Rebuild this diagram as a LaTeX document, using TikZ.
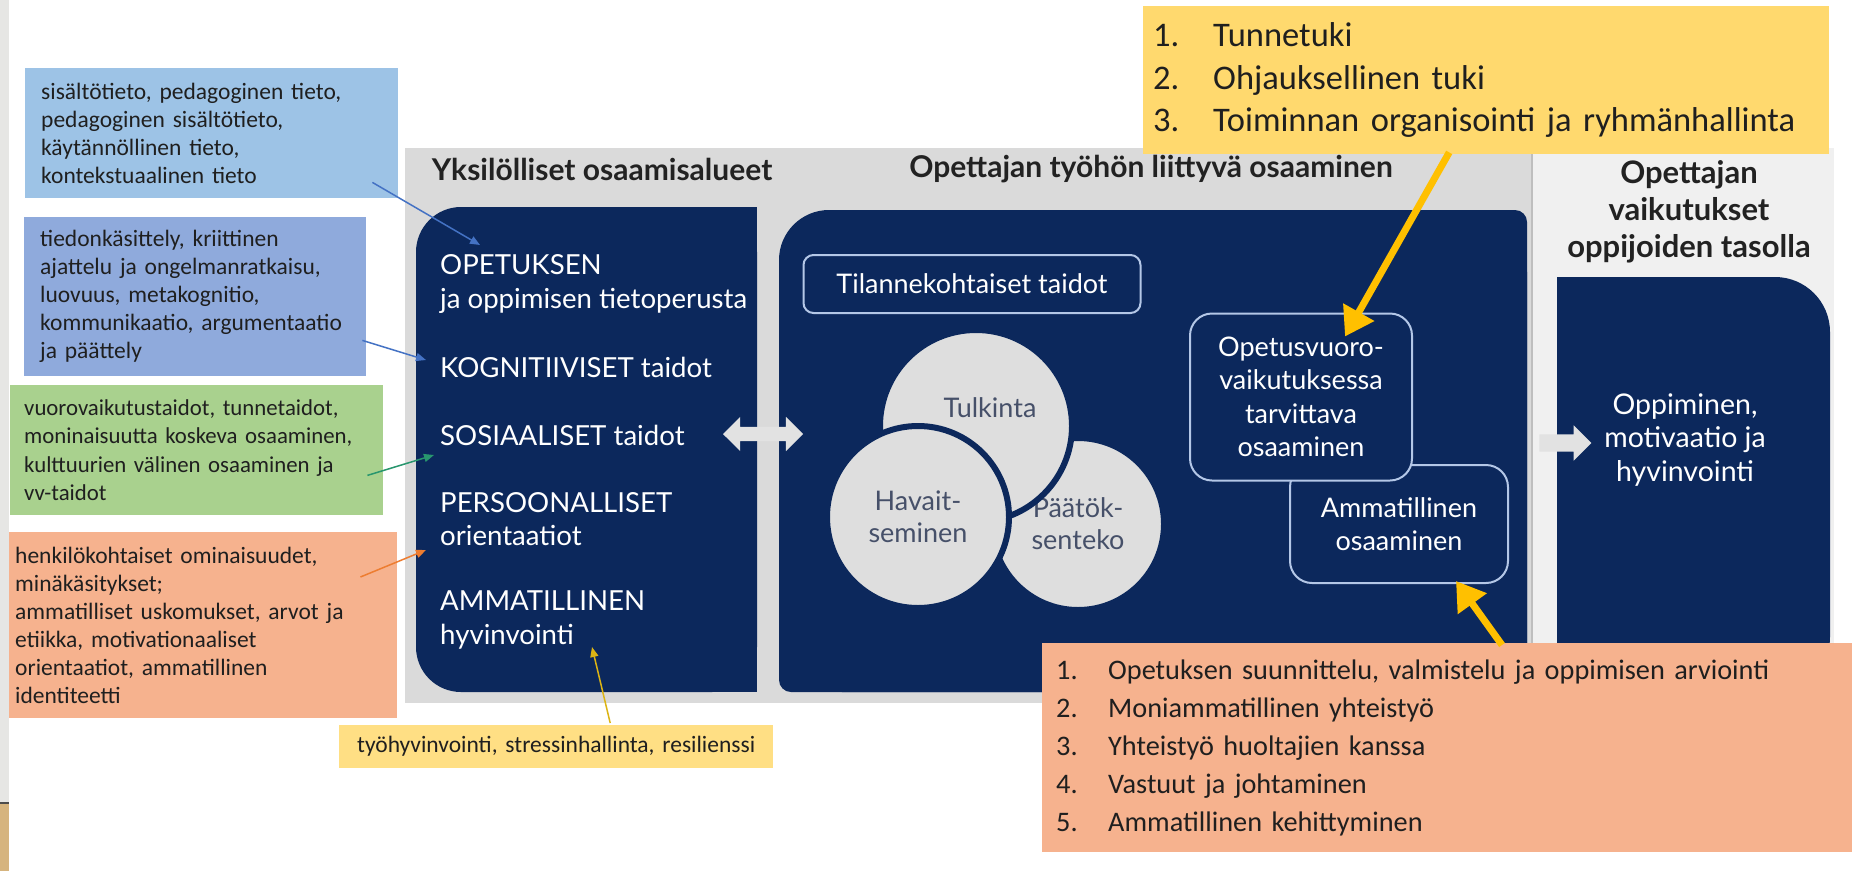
\documentclass[tikz,border=0pt]{standalone}
\usepackage{fontspec}
\setmainfont{Lato}
\newfontfamily\calibri{Carlito}
\usetikzlibrary{arrows.meta,shapes.arrows}

\definecolor{navy}{RGB}{12,40,92}
\definecolor{panelgray}{RGB}{218,218,218}
\definecolor{panellight}{RGB}{240,240,240}
\definecolor{divider}{RGB}{190,190,190}
\definecolor{circgray}{RGB}{222,222,222}
\definecolor{circink}{RGB}{70,80,105}
\definecolor{edgeblue}{RGB}{180,199,231}
\definecolor{arrowgray}{RGB}{226,226,226}
\definecolor{skyblue}{RGB}{157,195,230}
\definecolor{lavender}{RGB}{143,170,220}
\definecolor{leafgreen}{RGB}{169,209,142}
\definecolor{salmon}{RGB}{246,178,142}
\definecolor{butter}{RGB}{255,217,110}
\definecolor{gold}{RGB}{255,192,0}
\definecolor{inkblue}{RGB}{68,114,196}
\definecolor{inkteal}{RGB}{40,150,110}
\definecolor{inkorange}{RGB}{237,125,49}
\definecolor{inkgold}{RGB}{220,180,20}
\definecolor{stripgray}{RGB}{230,230,228}
\definecolor{striptan}{RGB}{214,180,126}
\definecolor{heading}{RGB}{34,34,34}

\begin{document}
\begin{tikzpicture}[x=1pt,y=-1pt,
            callout/.style={anchor=north west,inner ysep=0pt,align=left,text=black!88,
                font=\calibri\fontsize{23.5}{28}\selectfont},
            navytext/.style={anchor=west,align=left,inner sep=0pt,text=white,
                font=\fontsize{27.6}{33.5}\selectfont},
            framebox/.style={rectangle,rounded corners=22pt,draw=edgeblue,line width=2pt,
                fill=navy,text=white,align=center,inner sep=0pt,font=\fontsize{27}{33.5}\selectfont},
            circ/.style={circle,fill=circgray,draw=navy,line width=6pt,text=circink,
                align=center,inner sep=0pt,font=\fontsize{27}{32}\selectfont},
            title/.style={text=heading,align=center,inner sep=0pt,font=\bfseries\fontsize{30}{37}\selectfont},
            pointer/.style={line width=1.5pt,-{Triangle[length=10pt,width=8pt]}},
            bigpointer/.style={draw=gold,line width=7pt,-{Triangle[length=28pt,width=34pt]}}]

            \fill[white] (0,0) rectangle (1852,871);
            \useasboundingbox (0,0) rectangle (1852,871);
            \fill[stripgray] (0,0) rectangle (9,802);
            \fill[striptan] (0,803) rectangle (9,871);
            \draw[black!70,line width=2pt] (0,803) -- (9,803);

            \fill[panelgray] (405,148) rectangle (1532,703);
            \fill[panellight] (1532,148) rectangle (1834,703);
            \draw[divider,line width=2pt] (1532,148) -- (1532,703);

            \fill[navy,rounded corners=45pt] (416,207) rectangle (757,692);
            \fill[navy] (600,207) rectangle (757,692);
            \fill[navy,rounded corners=12pt] (779,260) rectangle (1527,692);
            \fill[navy,rounded corners=12pt] (830,210) rectangle (1527,692);
            \fill[navy,rounded corners=50pt] (779,210) rectangle (950,450);
            \fill[navy,rounded corners=55pt] (1557,277) rectangle (1830,692);
            \fill[navy] (1557,277) rectangle (1700,692);

            \node[title] (yksil) at (602,169) {Yksilölliset osaamisalueet};
            \node[title] (tyohon) at (1151,169) {Opettajan työhön liittyvä osaaminen};
            \node[title,font=\bfseries\fontsize{31}{37}\selectfont] (vaikutus) at (1689,212)
                {Opettajan\\vaikutukset\\oppijoiden tasolla};

            \node[navytext] (opetus) at (440,284) {OPETUKSEN\\ja oppimisen tietoperusta};
            \node[navytext] (kogn) at (440,367) {KOGNITIIVISET taidot};
            \node[navytext] (sos) at (440,435) {SOSIAALISET taidot};
            \node[navytext] (pers) at (440,519) {PERSOONALLISET\\orientaatiot};
            \node[navytext] (amm) at (440,620) {AMMATILLINEN\\hyvinvointi};

            \node[double arrow,fill=arrowgray,minimum height=80pt,inner sep=7pt,
                double arrow head extend=10pt] (molemmat) at (763,434) {};
            \node[single arrow,fill=arrowgray,minimum height=52pt,inner sep=8.5pt,
                single arrow head extend=9pt] (kohti) at (1561,443) {};

            \node[framebox,rounded corners=10pt,minimum width=337pt,minimum height=58pt]
                (tilanne) at (972,284) {Tilannekohtaiset taidot};
            \node[circ,minimum size=172pt] (paatos) at (1078,524) {Päätök-\\senteko};
            \node[circ,minimum size=192pt,
                label={[text=circink,font=\fontsize{27}{32}\selectfont,xshift=14pt,yshift=18pt]center:Tulkinta}]
                (tulkinta) at (976,426) {};
            \node[circ,minimum size=182pt] (havait) at (918,517) {Havait-\\seminen};

            \node[framebox,minimum width=218pt,minimum height=118pt] (ammosa) at (1399,524)
                {Ammatillinen\\osaaminen};
            \node[framebox,minimum width=222pt,minimum height=167pt] (vuoro) at (1301,397)
                {Opetusvuoro-\\vaikutuksessa\\tarvittava\\osaaminen};

            \node[navytext,anchor=center,align=center,font=\fontsize{28.5}{33.5}\selectfont]
                (oppiminen) at (1685,440) {Oppiminen,\\motivaatio ja\\hyvinvointi};

            \node[callout,fill=skyblue,minimum height=130pt,text width=341pt,inner xsep=16pt]
                (sisalto) at (25,68)
                {sisältötieto, pedagoginen tieto,\\pedagoginen sisältötieto,\\käytännöllinen tieto,\\kontekstuaalinen tieto};
            \node[callout,fill=lavender,minimum height=159pt,text width=310pt,inner xsep=16pt]
                (kognitio) at (24,217)
                {tiedonkäsittely, kriittinen\\ajattelu ja ongelmanratkaisu,\\luovuus, metakognitio,\\kommunikaatio, argumentaatio\\ja päättely};
            \node[callout,fill=leafgreen,minimum height=130pt,text width=345pt,inner xsep=14pt,
                font=\calibri\fontsize{22.8}{28.5}\selectfont] (vuoro2) at (10,385)
                {vuorovaikutustaidot, tunnetaidot,\\moninaisuutta koskeva osaaminen,\\kulttuurien välinen osaaminen ja\\vv-taidot};
            \node[callout,fill=salmon,minimum height=186pt,text width=376pt,inner xsep=6pt]
                (henk) at (9,532)
                {henkilökohtaiset ominaisuudet,\\minäkäsitykset;\\ammatilliset uskomukset, arvot ja\\etiikka, motivationaaliset\\orientaatiot, ammatillinen\\identiteetti};
            \node[callout,fill=butter!85,align=center,minimum height=43pt,text width=434pt,inner xsep=0pt]
                (tyohyv) at (339,725) {työhyvinvointi, stressinhallinta, resilienssi};

            \node[callout,fill=butter,minimum height=148pt,text width=666pt,inner xsep=10pt,
                font=\calibri\fontsize{34.5}{42.5}\selectfont] (tuki) at (1143,6)
                {\makebox[60pt][l]{1.}Tunnetuki\\
                 \makebox[60pt][l]{2.}Ohjauksellinen tuki\\
                 \makebox[60pt][l]{3.}Toiminnan organisointi ja ryhmänhallinta};
            \node[callout,fill=salmon,minimum height=209pt,text width=782pt,inner xsep=14pt,
                font=\calibri\fontsize{28.3}{38}\selectfont] (tehtavat) at (1042,643)
                {\makebox[52pt][l]{1.}Opetuksen suunnittelu, valmistelu ja oppimisen arviointi\\
                 \makebox[52pt][l]{2.}Moniammatillinen yhteistyö\\
                 \makebox[52pt][l]{3.}Yhteistyö huoltajien kanssa\\
                 \makebox[52pt][l]{4.}Vastuut ja johtaminen\\
                 \makebox[52pt][l]{5.}Ammatillinen kehittyminen};

            \coordinate (opetuspt) at (480,245);
            \coordinate (kognpt) at (426,360);
            \coordinate (sospt) at (434,455);
            \coordinate (perspt) at (426,550);
            \coordinate (ammpt) at (592,647);

            \draw[pointer,draw=inkblue] ([xshift=-26pt,yshift=16pt]sisalto.south east) -- (opetuspt);
            \draw[pointer,draw=inkblue] ([xshift=-4pt,yshift=36pt]kognitio.south east) -- (kognpt);
            \draw[pointer,draw=inkteal] ([xshift=-16pt,yshift=40pt]vuoro2.south east) -- (sospt);
            \draw[pointer,draw=inkorange] ([xshift=-37pt,yshift=-45pt]henk.north east) -- (perspt);
            \draw[pointer,draw=inkgold] ([xshift=54pt,yshift=2pt]tyohyv.north) -- (ammpt);

            \draw[bigpointer] ([xshift=-37pt,yshift=2pt]tuki.south) -- ([xshift=44pt,yshift=-24pt]vuoro.north);
            \draw[bigpointer] ([xshift=460pt,yshift=-2pt]tehtavat.north west) -- ([xshift=57pt,yshift=3pt]ammosa.south);
        \end{tikzpicture}
\end{document}
